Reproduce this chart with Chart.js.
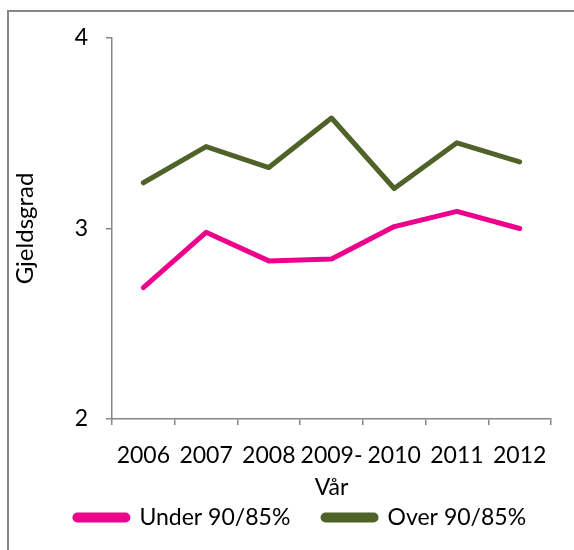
<!DOCTYPE html>
<html>
<head>
<meta charset="utf-8">
<script src="https://cdn.jsdelivr.net/npm/chart.js@4"></script>
<style>
  html, body { margin: 0; padding: 0; background: #fff; }
  #wrap { width: 574px; height: 550px; position: relative; }
</style>
</head>
<body>
<div id="wrap"><canvas id="myChart" width="574" height="550"></canvas></div>
<script>
// categories (4th one wraps onto two lines)
const years = ['2006', '2007', '2008', ['2009-', 'Vår'], '2010', '2011', '2012'];
const underValues = [2.69, 2.98, 2.83, 2.84, 3.01, 3.09, 3.00];
const overValues = [3.24, 3.43, 3.32, 3.58, 3.21, 3.45, 3.35];
const yTicks = [2, 3, 4];

const axisGrey = '#868686';
const fontFam = 'Lato, "DejaVu Sans", sans-serif';

// the cropped frame of the original (only top and left edges visible)
const framePlugin = {
    id: 'frame',
    beforeDraw(chart) {
        const c = chart.ctx;
        c.save();
        c.fillStyle = '#ffffff';
        c.fillRect(0, 0, chart.width, chart.height);
        c.strokeStyle = axisGrey;
        c.lineWidth = 2;
        c.beginPath();
        c.moveTo(8, chart.height);
        c.lineTo(8, 11);
        c.lineTo(chart.width, 11);
        c.stroke();
        c.restore();
    }
};

let ctx = document.getElementById('myChart').getContext('2d');
let chartJS = new Chart(ctx, {
    type: 'line',
    data: {
        labels: years,
        datasets: [{
            label: 'Under 90/85%',
            data: underValues,
            borderColor: '#ec008c',
            backgroundColor: '#ec008c',
            borderWidth: 5,
            pointRadius: 0,
            borderCapStyle: 'round',
            borderJoinStyle: 'round',
            tension: 0
        }, {
            label: 'Over 90/85%',
            data: overValues,
            borderColor: '#4f6228',
            backgroundColor: '#4f6228',
            borderWidth: 5,
            pointRadius: 0,
            borderCapStyle: 'round',
            borderJoinStyle: 'round',
            tension: 0
        }]
    },
    options: {
        responsive: false,
        animation: false,
        layout: { padding: { left: 50, right: 23, top: 38, bottom: 11 } },
        plugins: {
            tooltip: { enabled: false },
            legend: {
                position: 'bottom',
                labels: {
                    color: '#000',
                    font: { family: fontFam, size: 23 },
                    boxWidth: 53,
                    boxHeight: 5,
                    useBorderRadius: true,
                    borderRadius: 2.5,
                    padding: 4,
                    // wider gap between the two entries, like the original
                    generateLabels(chart) {
                        const items = Chart.defaults.plugins.legend.labels.generateLabels(chart);
                        items.forEach((it, i) => { if (i < items.length - 1) it.text += '\u2003\u2002'; });
                        return items;
                    }
                }
            }
        },
        scales: {
            x: {
                offset: true,
                border: { color: axisGrey, width: 1.5 },
                grid: { display: true, drawOnChartArea: false, drawTicks: true, tickLength: 6, color: axisGrey, lineWidth: 1.5, offset: true },
                ticks: {
                    color: '#000',
                    font: { family: fontFam, size: 23, lineHeight: 1.4 },
                    padding: 14,
                    maxRotation: 0,
                    autoSkip: false
                },
                afterFit(scale) { scale.height = 83; }
            },
            y: {
                min: 2,
                max: 4,
                border: { color: axisGrey, width: 1.5 },
                grid: { display: true, drawOnChartArea: false, drawTicks: true, tickLength: 6, color: axisGrey, lineWidth: 1.5 },
                afterBuildTicks(scale) { scale.ticks = yTicks.map(v => ({ value: v })); },
                ticks: {
                    color: '#000',
                    font: { family: fontFam, size: 23 },
                    padding: 18
                },
                title: {
                    display: true,
                    text: 'Gjeldsgrad',
                    color: '#000',
                    font: { family: fontFam, size: 24 },
                    padding: { top: -39, bottom: 0 }
                },
                afterFit(scale) { scale.width = 62; }
            }
        }
    },
    plugins: [framePlugin]
});
</script>
</body>
</html>
